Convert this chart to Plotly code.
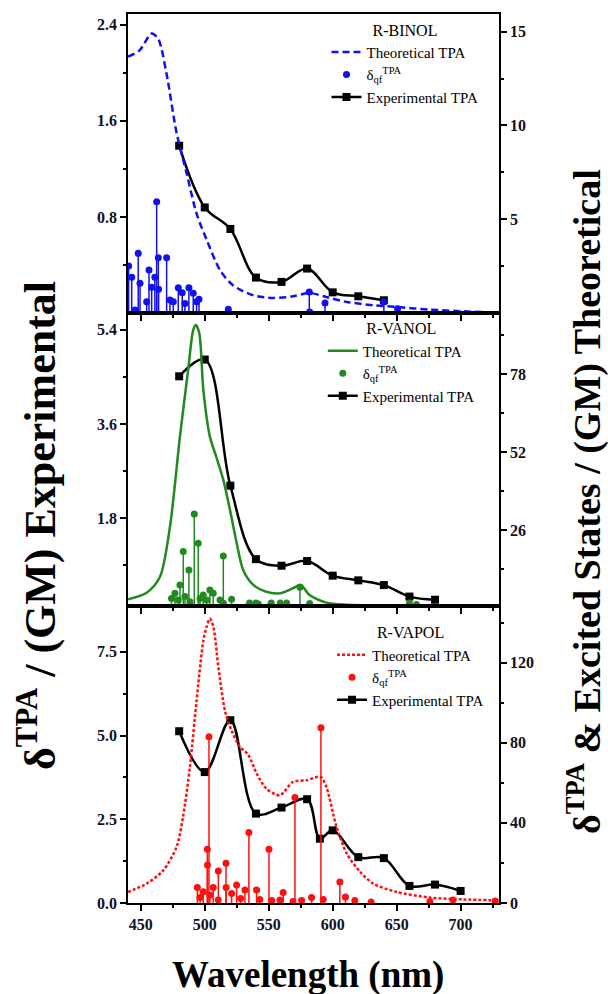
import plotly.graph_objects as go

# ---------------- R-BINOL ----------------
binol_theo_x = [440, 449, 458.5, 463.7, 470, 478, 486, 493.6, 501.5, 512, 522, 538, 553.5,
                569, 582, 595, 611, 632, 650, 676, 702, 730]
binol_theo_y = [13.67, 14.0, 14.9, 14.6, 12.8, 9.6, 7.4, 5.3, 3.9, 2.28, 1.48, 0.94, 0.8,
                0.89, 1.07, 0.85, 0.59, 0.41, 0.32, 0.18, 0.09, 0.02]
binol_exp_x = [480, 500, 520, 540, 560, 580, 600, 620, 640]
binol_exp_y = [1.393, 0.879, 0.70, 0.295, 0.259, 0.37, 0.172, 0.139, 0.106]
binol_st_x = [440.5, 442.9, 445.5, 448, 449.4, 454.6, 456.4, 458.5, 461, 462.4, 463.7, 463.9,
              470.2, 472.8, 475.4, 479.3, 482.4, 484.5, 487.6, 491, 493.6, 495.5, 518.4,
              581.7, 582, 594, 640, 650.7]
binol_st_y = [2.5, 1.9, 0.16, 3.18, 1.58, 0.6, 2.29, 1.37, 1.9, 5.93, 2.95, 1.26,
              2.95, 0.69, 0.6, 1.35, 1.08, 0.5, 1.35, 1.05, 0.6, 0.73, 0.2,
              1.12, 0.05, 0.53, 0.59, 0.23]

# ---------------- R-VANOL ----------------
vanol_theo_x = [440, 454.6, 465, 472.8, 480.6, 487, 491, 493, 495.7, 498.9, 504, 509, 514.5,
                519.7, 525, 530, 538, 548, 558.75, 569, 575, 582, 595, 611, 637, 663, 730]
vanol_theo_y = [2.9, 5.1, 10.4, 27.1, 57.1, 79.3, 92.7, 94.3, 91.6, 72.7, 57.1, 50.4, 42.7,
                32.7, 21.6, 12.7, 7.7, 5.4, 4.9, 6.6, 7.7, 4.3, 1.8, 1.1, 0.9, 0.8, 0.7]
vanol_exp_x = [480, 500, 520, 540, 560, 580, 600, 620, 640, 660, 680]
vanol_exp_y = [4.51, 4.83, 2.42, 1.015, 0.89, 0.98, 0.70, 0.61, 0.52, 0.30, 0.24]
vanol_st_x = [474, 476.7, 479.3, 480.6, 483.2, 484.5, 487.6, 488.4, 491.8, 494.9, 496.3,
              498.8, 501.5, 504, 506.6, 511.9, 514.5, 514.6, 521, 534, 535, 540, 541.8,
              551, 552, 559, 564, 574.4, 582, 583.5, 660, 665.5]
vanol_st_y = [3.2, 4.9, 2.7, 7.7, 18.8, 3.8, 12.7, 2.1, 31.3, 21.6, 3.2,
              4.3, 2.7, 6.0, 4.9, 2.7, 17.3, 1.6, 2.9, 0.7, 1.7, 1.7, 1.3,
              0.7, 1.7, 1.7, 1.7, 6.9, 1.5, 0.2, 1.7, 1.2]

# ---------------- R-VAPOL ----------------
vapol_theo_x = [440, 454.6, 467.6, 478, 483, 488.4, 493.6, 498.9, 501.5, 504, 506.7, 510.6,
                515.8, 521, 527.5, 534, 540.5, 548.3, 558.75, 569, 579.6, 590.5, 595, 603,
                611, 621.5, 631.7, 650, 676, 702, 730]
vapol_theo_y = [5.5, 9.7, 16.3, 28, 43, 68, 101, 131, 138, 142, 138, 118,
                96, 86, 78, 74, 64.7, 57, 53.8, 60.5, 61.3, 63, 58, 38,
                24.7, 15.5, 9.7, 5.5, 2.7, 1.8, 1.3]
vapol_exp_x = [480, 500, 520, 540, 560, 580, 590, 600, 620, 640, 660, 680, 700]
vapol_exp_y = [5.13, 3.91, 5.46, 2.67, 2.85, 3.10, 1.92, 2.17, 1.37, 1.34, 0.51, 0.55, 0.36]
vapol_st_x = [494.2, 496.3, 498.8, 502, 502.1, 503.3, 504, 506.6, 510.5, 510.6, 516.6, 516.7,
              521, 524.9, 528, 531.4, 534.5, 540.5, 543, 550.2, 552.3, 558.75, 561.3, 569,
              570.5, 575.7, 583.5, 590.8, 592.6, 605.6, 610, 617.3, 630, 676, 694, 727]
vapol_st_y = [7.8, 2.8, 5.6, 26.8, 19, 83, 4, 7.8, 1.5, 16, 19.8, 7.8,
              4.8, 9, 2.3, 6.5, 35.2, 6.5, 1.8, 26.8, 1.2, 1.5, 5.2, 0.7,
              52.7, 1.2, 2.8, 87.5, 1.8, 10.5, 3, 1.3, 0.5, 0.8, 1.5, 1.0]

BLUE = "#1010f0"
GREEN = "#1f8a1f"
RED = "#ff1010"
SERIF = "Liberation Serif"

fig = go.Figure()


def add_panel(xa, ya_left, ya_right, legend, theo_x, theo_y, theo_dash, color,
              st_x, st_y, exp_x, exp_y):
    fig.add_trace(go.Scatter(
        x=theo_x, y=theo_y, xaxis=xa, yaxis=ya_right, mode="lines",
        line=dict(color=color, width=2.5, dash=theo_dash, shape="spline", smoothing=0.8),
        name="Theoretical TPA", legend=legend))
    fig.add_trace(go.Scatter(
        x=st_x, y=st_y, xaxis=xa, yaxis=ya_right, mode="markers",
        marker=dict(color=color, size=7, symbol="circle"),
        error_y=dict(type="data", symmetric=False, array=[0] * len(st_y),
                     arrayminus=st_y, width=0, thickness=1.5, color=color),
        name="δ<sub>qf</sub><sup>TPA</sup>", legend=legend))
    fig.add_trace(go.Scatter(
        x=exp_x, y=exp_y, xaxis=xa, yaxis=ya_left, mode="lines+markers",
        line=dict(color="black", width=2.5, shape="spline", smoothing=1.0),
        marker=dict(color="black", size=8, symbol="square"),
        name="Experimental TPA", legend=legend))


add_panel("x", "y", "y2", "legend", binol_theo_x, binol_theo_y, "7px,4px", BLUE,
          binol_st_x, binol_st_y, binol_exp_x, binol_exp_y)
add_panel("x2", "y3", "y4", "legend2", vanol_theo_x, vanol_theo_y, "solid", GREEN,
          vanol_st_x, vanol_st_y, vanol_exp_x, vanol_exp_y)
add_panel("x3", "y5", "y6", "legend3", vapol_theo_x, vapol_theo_y, "3px,2px", RED,
          vapol_st_x, vapol_st_y, vapol_exp_x, vapol_exp_y)

tick_font = dict(family=SERIF, size=16, color="#111122", weight="bold")
axis_common = dict(showline=True, linecolor="black", linewidth=1.5, ticks="outside",
                   ticklen=6, tickwidth=1.5, tickcolor="black", showgrid=False,
                   zeroline=False, tickfont=tick_font)

x_ticks = [450, 500, 550, 600, 650, 700]
x_minor = [475, 525, 575, 625, 675, 725]
d_top = [(903 - 313) / 889, 1.0]
d_mid = [(903 - 606) / 889, (903 - 313) / 889]
d_bot = [0.0, (903 - 606) / 889]


def xaxis(anchor, labels):
    return dict(axis_common, range=[440, 730], anchor=anchor, tickvals=x_ticks,
                showticklabels=labels, mirror=True,
                minor=dict(tickvals=x_minor, ticks="outside", ticklen=3, tickcolor="black"))


def yaxis(domain, rng, vals, minor, fmt, side="left", overlay=None, anchor="x"):
    d = dict(axis_common, range=rng, tickvals=vals, tickformat=fmt, side=side,
             anchor=anchor,
             minor=dict(tickvals=minor, ticks="outside", ticklen=3, tickcolor="black"))
    if overlay:
        d["overlaying"] = overlay
    else:
        d["domain"] = domain
    return d


legend_font = dict(family=SERIF, size=15, color="black")
legend_title_font = dict(family=SERIF, size=16, color="black")


def legend(x, y, title):
    return dict(x=x, y=y, xanchor="left", yanchor="top", bgcolor="rgba(0,0,0,0)",
                font=legend_font, traceorder="normal", itemwidth=30,
                title=dict(text=title, side="top center", font=legend_title_font))


fig.update_layout(
    width=608, height=994,
    margin=dict(l=128, r=109, t=14, b=91),
    paper_bgcolor="white", plot_bgcolor="white",
    showlegend=True,
    xaxis=xaxis("y", False),
    xaxis2=xaxis("y3", False),
    xaxis3=xaxis("y5", True),
    yaxis=yaxis(d_top, [0, 2.49], [0.8, 1.6, 2.4], [0.4, 1.2, 2.0], ".1f", anchor="x"),
    yaxis2=yaxis(None, [0, 15.94], [5, 10, 15], [2.5, 7.5, 12.5], "d", side="right",
                 overlay="y", anchor="x"),
    yaxis3=yaxis(d_mid, [0.12, 5.72], [1.8, 3.6, 5.4], [0.9, 2.7, 4.5], ".1f", anchor="x2"),
    yaxis4=yaxis(None, [0.67, 98.3], [26, 52, 78], [13, 39, 65, 91], "d", side="right",
                 overlay="y3", anchor="x2"),
    yaxis5=yaxis(d_bot, [0, 8.87], [0, 2.5, 5.0, 7.5], [1.25, 3.75, 6.25], ".1f", anchor="x3"),
    yaxis6=yaxis(None, [0, 148.3], [0, 40, 80, 120], [20, 60, 100, 140], "d", side="right",
                 overlay="y5", anchor="x3"),
    legend=legend(0.535, 0.999, "R-BINOL"),
    legend2=legend(0.525, 0.663, "R-VANOL"),
    legend3=legend(0.55, 0.321, "R-VAPOL"),
)

fig.add_annotation(text="δ<sup>TPA</sup> / (GM) Experimental", textangle=-90,
                   xref="paper", yref="paper", x=(37 - 128) / 371, y=(903 - 526) / 889,
                   xanchor="center", yanchor="middle", showarrow=False,
                   font=dict(family=SERIF, size=44, color="black", weight="bold"))
fig.add_annotation(text="δ<sup>TPA</sup> & Excited States / (GM) Theoretical", textangle=-90,
                   xref="paper", yref="paper", x=(584 - 128) / 371, y=(903 - 502) / 889,
                   xanchor="center", yanchor="middle", showarrow=False,
                   font=dict(family=SERIF, size=38, color="black", weight="bold"))
fig.add_annotation(text="Wavelength (nm)", xref="paper", yref="paper",
                   x=(308 - 128) / 371, y=(903 - 975) / 889,
                   xanchor="center", yanchor="middle", showarrow=False,
                   font=dict(family=SERIF, size=37, color="black", weight="bold"))

fig.write_html("out.html")
